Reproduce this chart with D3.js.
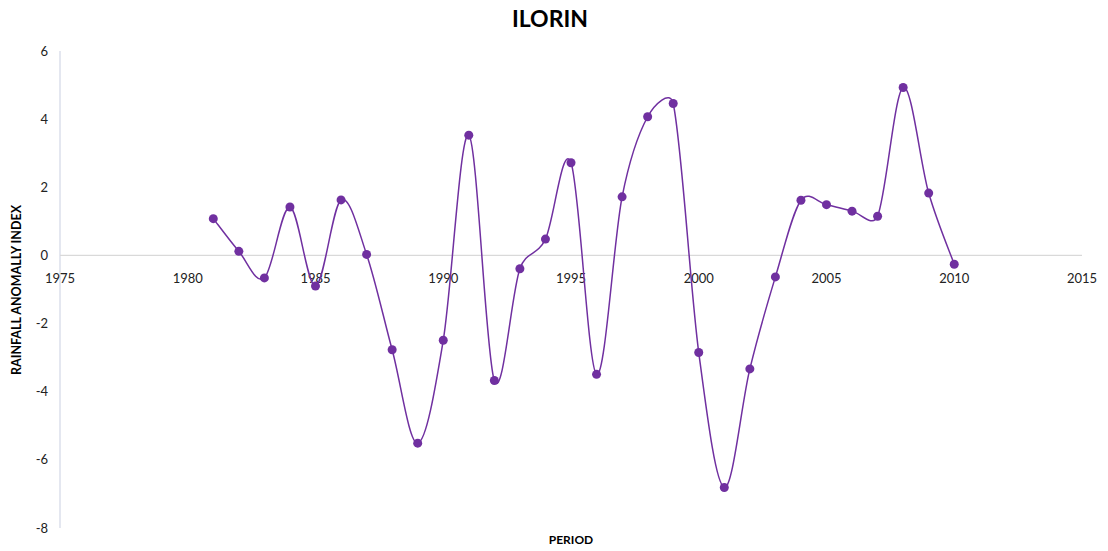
<!DOCTYPE html>
<html><head><meta charset="utf-8">
<script src="https://cdn.jsdelivr.net/npm/d3@7"></script>
<style>body{margin:0;background:#fff}svg{display:block}</style>
</head><body>
<svg id="c" width="1108" height="551"></svg>
<script>
const years = [1981,1982,1983,1984,1985,1986,1987,1988,1989,1990,1991,1992,1993,1994,1995,1996,1997,1998,1999,2000,2001,2002,2003,2004,2005,2006,2007,2008,2009,2010];
const values = [1.08,0.12,-0.66,1.42,-0.90,1.63,0.03,-2.77,-5.51,-2.49,3.53,-3.67,-0.39,0.48,2.72,-3.49,1.72,4.07,4.46,-2.85,-6.81,-3.33,-0.63,1.62,1.49,1.30,1.15,4.93,1.83,-0.26];
const xTicks = [1975,1980,1985,1990,1995,2000,2005,2010,2015];
const yTicks = [-8,-6,-4,-2,0,2,4,6];
const title = "ILORIN", xTitle = "PERIOD", yTitle = "RAINFALL ANOMALLY INDEX";

const svg = d3.select("#c");
const font = "Lato, 'Open Sans', sans-serif";
const x = d3.scaleLinear().domain([1975,2015]).range([60,1082]);
const y = d3.scaleLinear().domain([-8,6]).range([528,51]);

svg.append("line").attr("x1",x(1975)).attr("x2",x(1975)).attr("y1",y(6)).attr("y2",y(-8))
  .attr("stroke","#D6DAE8").attr("stroke-width",1.3);
svg.append("line").attr("x1",x(1975)).attr("x2",x(2015)).attr("y1",y(0)).attr("y2",y(0))
  .attr("stroke","#D9D9D9").attr("stroke-width",1.3);

svg.append("g").selectAll("text").data(yTicks).join("text")
  .attr("x",48).attr("y",d=>y(d)).attr("dy","0.35em").attr("text-anchor","end")
  .attr("font-family",font).attr("font-size",13).attr("fill","#222").text(d=>d);
svg.append("g").selectAll("text").data(xTicks).join("text")
  .attr("x",d=>x(d)).attr("y",y(0)+23).attr("dy","0.35em").attr("text-anchor","middle")
  .attr("font-family",font).attr("font-size",13).attr("fill","#222").text(d=>d);

svg.append("text").attr("x",550).attr("y",27).attr("text-anchor","middle")
  .attr("font-family",font).attr("font-weight","bold").attr("font-size",23).attr("fill","#000").text(title);
svg.append("text").attr("x",571).attr("y",544).attr("text-anchor","middle")
  .attr("font-family",font).attr("font-weight","bold").attr("font-size",12).attr("fill","#000").text(xTitle);
svg.append("text").attr("transform","translate(21,290) rotate(-90)").attr("text-anchor","middle")
  .attr("font-family",font).attr("font-weight","bold").attr("font-size",12.5).attr("fill","#000").text(yTitle);

// Excel-like smoothing: Catmull-Rom (1/6) tangents, clamped to half the segment length
function excelSmooth(pts){
  const p = d3.path();
  const dist = (a,b)=>Math.hypot(b[0]-a[0], b[1]-a[1]);
  p.moveTo(pts[0][0], pts[0][1]);
  for(let i=0;i<pts.length-1;i++){
    const P0 = pts[Math.max(i-1,0)], P1 = pts[i], P2 = pts[i+1], P3 = pts[Math.min(i+2,pts.length-1)];
    const d02 = dist(P0,P2), d12 = dist(P1,P2), d13 = dist(P1,P3);
    const f1 = d02>0 ? Math.min(1/6, d12/(2*d02)) : 0;
    const f2 = d13>0 ? Math.min(1/6, d12/(2*d13)) : 0;
    const c1 = [P1[0]+(P2[0]-P0[0])*f1, P1[1]+(P2[1]-P0[1])*f1];
    const c2 = [P2[0]-(P3[0]-P1[0])*f2, P2[1]-(P3[1]-P1[1])*f2];
    p.bezierCurveTo(c1[0],c1[1],c2[0],c2[1],P2[0],P2[1]);
  }
  return p.toString();
}

const data = years.map((yr,i)=>({yr, v: values[i]}));
const pts = data.map(d=>[x(d.yr), y(d.v)]);
svg.append("path").attr("d",excelSmooth(pts)).attr("fill","none")
  .attr("stroke","#7030A0").attr("stroke-width",1.5);
svg.append("g").selectAll("circle").data(data).join("circle")
  .attr("cx",d=>x(d.yr)).attr("cy",d=>y(d.v)).attr("r",4.5).attr("fill","#7030A0");
</script>
</body></html>
